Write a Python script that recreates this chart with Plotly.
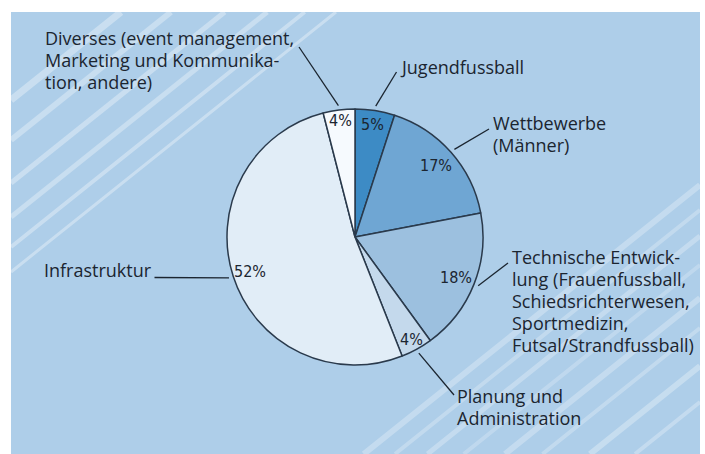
import math
import plotly.graph_objects as go

# ---------------- data ----------------
categories = [
    "Jugendfussball",
    "Wettbewerbe (Männer)",
    "Technische Entwicklung (Frauenfussball, Schiedsrichterwesen, Sportmedizin, Futsal/Strandfussball)",
    "Planung und Administration",
    "Infrastruktur",
    "Diverses (event management, Marketing und Kommunikation, andere)",
]
values = [5, 17, 18, 4, 52, 4]
label_lines = [
    ["Jugendfussball"],
    ["Wettbewerbe", "(Männer)"],
    ["Technische Entwick-", "lung (Frauenfussball,", "Schiedsrichterwesen,", "Sportmedizin,", "Futsal/Strandfussball)"],
    ["Planung und", "Administration"],
    ["Infrastruktur"],
    ["Diverses (event management,", "Marketing und Kommunika-", "tion, andere)"],
]
slice_colors = ["#3d8bc5", "#6fa6d3", "#9cc0df", "#c4d9ec", "#e1edf7", "#f6fafe"]

# ---------------- layout constants (pixels) ----------------
W, H = 705, 454
CX, CY, R = 355, 237, 128
BG = "#aecee9"
TXT = "#1b2530"
EDGE = "#2a3a4c"
LINE_GAP = 22
pct_radius = [0.89, 0.84, 0.85, 0.91, 0.86, 0.92]
# label text anchor (x, y-centre of first line, xanchor) and leader-line end point
label_pos = [
    (398, 67, "left"),
    (491, 123, "left"),
    (510, 257, "left"),
    (455, 396, "left"),
    (154, 270, "right"),
    (43, 38, "left"),
]
leader_end = [(396.5, 72), (489, 129), (508, 263), (454, 395), (154.5, 277.5), (299, 47)]


def px(x):
    return x / W


def py(y):
    return 1 - y / H


fig = go.Figure()
fig.add_trace(go.Pie(
    labels=categories,
    values=values,
    sort=False,
    direction="clockwise",
    rotation=0,
    marker=dict(colors=slice_colors, line=dict(color=EDGE, width=1.5)),
    textinfo="none",
    hoverinfo="label+value",
    showlegend=False,
    domain=dict(x=[px(CX - R), px(CX + R)], y=[py(CY + R), py(CY - R)]),
))

shapes = []
# background panel
shapes.append(dict(type="rect", xref="paper", yref="paper", x0=px(11), x1=px(700), y0=py(454), y1=py(12),
                   fillcolor=BG, line=dict(width=0), layer="below"))

# decorative diagonal stripes (slope ~0.8)
SL = 0.8
ul = [(100, 7, 0.34), (140, 6, 0.32), (183, 5, 0.34), (217, 5, 0.32), (247, 4, 0.34), (272, 3, 0.34)]
for y0, w, op in ul:
    x1 = 11 + (y0 - 12) / SL
    shapes.append(dict(type="line", xref="paper", yref="paper", x0=px(11), y0=py(y0), x1=px(x1), y1=py(12),
                       line=dict(color=f"rgba(255,255,255,{op})", width=w), layer="below"))
lr = [(185, 6, 0.28), (210, 4, 0.25), (236, 5, 0.28), (265, 4, 0.22), (298, 6, 0.28), (328, 4, 0.25),
      (366, 6, 0.30), (402, 4, 0.28)]
for y0, w, op in lr:
    x1 = 700 - (454 - y0) / SL
    shapes.append(dict(type="line", xref="paper", yref="paper", x0=px(700), y0=py(y0), x1=px(x1), y1=py(454),
                       line=dict(color=f"rgba(255,255,255,{op})", width=w), layer="below"))

annotations = []
total = sum(values)
cum = 0
for i, v in enumerate(values):
    mid = (cum + v / 2) / total * 360
    cum += v
    a = math.radians(mid)
    # percentage label inside slice
    f = pct_radius[i]
    tx, ty = CX + f * R * math.sin(a), CY - f * R * math.cos(a)
    annotations.append(dict(x=px(tx), y=py(ty), xref="paper", yref="paper", text=f"{v}%", showarrow=False,
                            xanchor="center", yanchor="middle",
                            font=dict(family="DejaVu Sans Condensed, Liberation Sans Narrow, sans-serif",
                                      size=16, color=TXT)))
    # leader line
    sx, sy = CX + 1.035 * R * math.sin(a), CY - 1.035 * R * math.cos(a)
    ex, ey = leader_end[i]
    shapes.append(dict(type="line", xref="paper", yref="paper", x0=px(sx), y0=py(sy), x1=px(ex), y1=py(ey),
                       line=dict(color=TXT, width=1.3), layer="above"))
    # outside label, one annotation per text line
    lx, ly, xa = label_pos[i]
    for k, line in enumerate(label_lines[i]):
        annotations.append(dict(x=px(lx), y=py(ly + k * LINE_GAP), xref="paper", yref="paper", text=line,
                                showarrow=False, xanchor=xa, yanchor="middle", align="left",
                                font=dict(family="Open Sans, Noto Sans, sans-serif", size=18, color=TXT)))

fig.update_layout(
    width=W, height=H,
    margin=dict(l=0, r=0, t=0, b=0),
    paper_bgcolor="white",
    plot_bgcolor="white",
    shapes=shapes,
    annotations=annotations,
)

fig.write_html("out.html", config={"displayModeBar": False},
               post_script="document.body.style.margin='0';")
